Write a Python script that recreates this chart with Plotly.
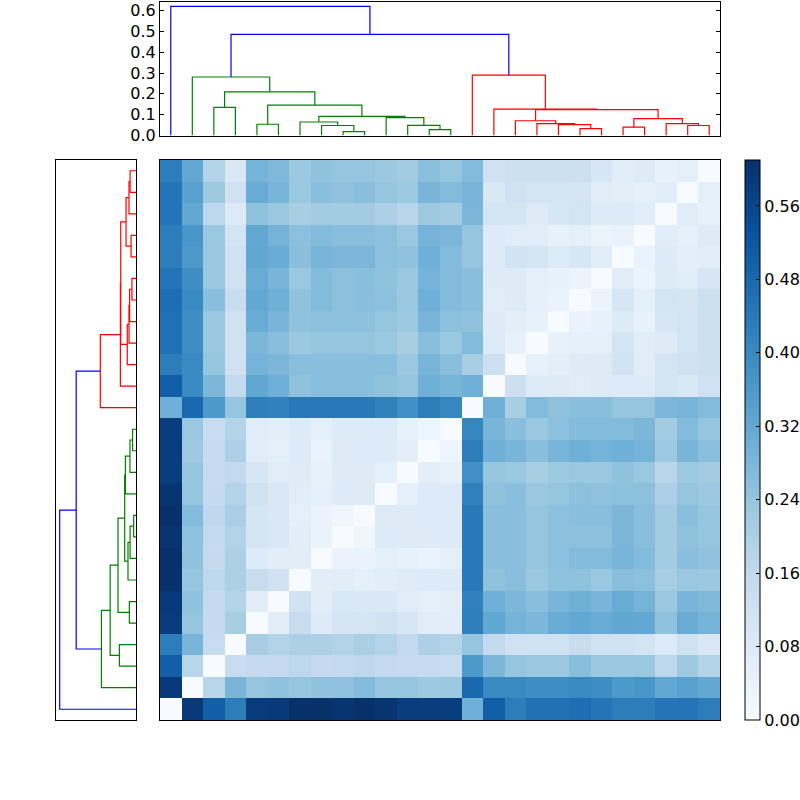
import plotly.graph_objects as go

# ---------------- data ----------------
n_leaves = 26
# linkage (display order leaves 0..25); ids >= 26 refer to earlier merges
link_left = [12, 8, 19, 21, 24, 11, 7, 18, 4, 17, 23, 6, 16, 29, 10, 37, 38, 15, 2, 34, 44, 1, 14, 47, 0]
link_right = [13, 9, 20, 22, 25, 26, 27, 28, 5, 33, 30, 32, 35, 36, 31, 40, 39, 42, 3, 41, 45, 46, 43, 48, 49]
link_height = [0.028, 0.019, 0.033, 0.040, 0.048, 0.049, 0.048, 0.052, 0.054, 0.057, 0.057,
               0.065, 0.071, 0.081, 0.086, 0.092, 0.124, 0.127, 0.135, 0.146, 0.210, 0.281,
               0.290, 0.486, 0.620]

# distance matrix, lower triangle (row i holds D[i][0..i-1]); row 0 = bottom row
d_rows = [
    [],
    [0.59],
    [0.50, 0.18],
    [0.43, 0.285, 0.15],
    [0.585, 0.24, 0.155, 0.21],
    [0.59, 0.25, 0.155, 0.19, 0.065],
    [0.61, 0.24, 0.17, 0.20, 0.15, 0.125],
    [0.61, 0.25, 0.155, 0.20, 0.08, 0.065, 0.065],
    [0.60, 0.25, 0.16, 0.19, 0.105, 0.095, 0.065, 0.04],
    [0.61, 0.27, 0.165, 0.205, 0.105, 0.09, 0.055, 0.04, 0.025],
    [0.60, 0.24, 0.155, 0.19, 0.12, 0.09, 0.068, 0.058, 0.08, 0.075],
    [0.58, 0.24, 0.152, 0.16, 0.10, 0.07, 0.072, 0.05, 0.075, 0.075, 0.055],
    [0.58, 0.23, 0.152, 0.20, 0.07, 0.055, 0.08, 0.04, 0.075, 0.08, 0.08, 0.06],
    [0.58, 0.235, 0.15, 0.19, 0.07, 0.062, 0.08, 0.058, 0.08, 0.08, 0.08, 0.05, 0.03],
    [0.30, 0.48, 0.36, 0.24, 0.425, 0.42, 0.44, 0.44, 0.44, 0.44, 0.42, 0.385, 0.43, 0.41],
    [0.50, 0.40, 0.28, 0.16, 0.325, 0.30, 0.25, 0.26, 0.26, 0.26, 0.25, 0.24, 0.30, 0.285, 0.30],
    [0.43, 0.40, 0.24, 0.12, 0.29, 0.28, 0.26, 0.26, 0.26, 0.26, 0.26, 0.235, 0.285, 0.26, 0.21, 0.13],
    [0.46, 0.39, 0.235, 0.12, 0.28, 0.26, 0.235, 0.24, 0.24, 0.24, 0.235, 0.21, 0.26, 0.235, 0.27, 0.08, 0.05],
    [0.46, 0.39, 0.235, 0.12, 0.31, 0.285, 0.25, 0.255, 0.255, 0.255, 0.24, 0.23, 0.285, 0.255, 0.25, 0.075, 0.06, 0.05],
    [0.465, 0.40, 0.26, 0.15, 0.32, 0.30, 0.25, 0.27, 0.255, 0.26, 0.255, 0.235, 0.30, 0.27, 0.26, 0.07, 0.075, 0.052, 0.04],
    [0.45, 0.39, 0.235, 0.12, 0.31, 0.285, 0.235, 0.27, 0.255, 0.26, 0.25, 0.235, 0.29, 0.27, 0.26, 0.075, 0.075, 0.055, 0.05, 0.035],
    [0.43, 0.36, 0.235, 0.125, 0.325, 0.31, 0.26, 0.285, 0.28, 0.28, 0.255, 0.25, 0.30, 0.27, 0.24, 0.08, 0.115, 0.11, 0.08, 0.10, 0.07],
    [0.43, 0.37, 0.235, 0.11, 0.32, 0.29, 0.255, 0.27, 0.26, 0.26, 0.255, 0.235, 0.29, 0.28, 0.24, 0.08, 0.07, 0.07, 0.05, 0.055, 0.035, 0.04],
    [0.45, 0.32, 0.17, 0.08, 0.25, 0.235, 0.21, 0.22, 0.22, 0.22, 0.20, 0.18, 0.23, 0.22, 0.28, 0.11, 0.11, 0.075, 0.10, 0.11, 0.08, 0.08, 0.068],
    [0.45, 0.34, 0.23, 0.125, 0.31, 0.285, 0.235, 0.26, 0.25, 0.26, 0.24, 0.23, 0.285, 0.27, 0.285, 0.09, 0.125, 0.11, 0.11, 0.105, 0.07, 0.06, 0.052, 0.07],
    [0.43, 0.32, 0.19, 0.09, 0.29, 0.275, 0.232, 0.25, 0.24, 0.24, 0.232, 0.22, 0.258, 0.24, 0.27, 0.125, 0.13, 0.13, 0.13, 0.13, 0.10, 0.068, 0.075, 0.05, 0.055],
]

dendro_ticks = [0.0, 0.1, 0.2, 0.3, 0.4, 0.5, 0.6]
cbar_ticks = [0.00, 0.08, 0.16, 0.24, 0.32, 0.40, 0.48, 0.56]

blues = [[0.0, 'rgb(247,251,255)'], [0.125, 'rgb(222,235,247)'], [0.25, 'rgb(198,219,239)'],
         [0.375, 'rgb(158,202,225)'], [0.5, 'rgb(107,174,214)'], [0.625, 'rgb(66,146,198)'],
         [0.75, 'rgb(33,113,181)'], [0.875, 'rgb(8,81,156)'], [1.0, 'rgb(8,48,107)']]

# ---------------- build matrix ----------------
z = [[0.0] * n_leaves for _ in range(n_leaves)]
for i, row in enumerate(d_rows):
    assert len(row) == i
    for j, v in enumerate(row):
        z[i][j] = v
        z[j][i] = v
zmax = max(max(r) for r in z)

# ---------------- dendrogram geometry ----------------
pos = {i: 5 + 10 * i for i in range(n_leaves)}
hgt = {i: 0.0 for i in range(n_leaves)}
for k, (a, b, h) in enumerate(zip(link_left, link_right, link_height)):
    nid = n_leaves + k
    pos[nid] = (pos[a] + pos[b]) / 2
    hgt[nid] = h

thr = 0.7 * max(link_height)
nm = len(link_height)
color = [None] * nm
parent = {}
for k in range(nm):
    parent[link_left[k]] = k
    parent[link_right[k]] = k
palette = ['rgb(0,128,0)', 'rgb(255,0,0)', 'rgb(0,191,191)', 'rgb(191,0,191)']
cluster_roots = []
for k in range(nm - 1, -1, -1):
    if link_height[k] >= thr:
        color[k] = 'rgb(0,0,255)'
    else:
        p = parent.get(n_leaves + k)
        if p is None or link_height[p] >= thr:
            cluster_roots.append(k)
cluster_roots.sort(key=lambda k: pos[n_leaves + k])
for ci, k in enumerate(cluster_roots):
    color[k] = palette[ci]
for k in range(nm - 1, -1, -1):
    if color[k] is None:
        color[k] = color[parent[n_leaves + k]]

segs = {}
for k in range(nm):
    a, b = link_left[k], link_right[k]
    xs = [pos[a], pos[a], pos[b], pos[b], None]
    ys = [hgt[a], hgt[n_leaves + k], hgt[n_leaves + k], hgt[b], None]
    sx, sy = segs.setdefault(color[k], ([], []))
    sx.extend(xs)
    sy.extend(ys)

fig = go.Figure()

fig.add_trace(go.Heatmap(
    z=z, x=list(range(n_leaves)), y=list(range(n_leaves)),
    colorscale=blues, zmin=0, zmax=zmax, xaxis='x', yaxis='y',
    colorbar=dict(
        thickness=15, thicknessmode='pixels', len=0.7, lenmode='fraction',
        x=745 / 800, xanchor='left', xpad=0, y=0.1, yanchor='bottom', ypad=0,
        outlinewidth=1, outlinecolor='black',
        tickvals=cbar_ticks, tickformat='.2f', ticks='inside', ticklen=4,
        tickcolor='black', tickfont=dict(family='DejaVu Sans', size=16, color='black'),
    ),
    showscale=True,
))

for col, (sx, sy) in segs.items():
    fig.add_trace(go.Scatter(x=sx, y=sy, mode='lines', line=dict(color=col, width=1.2),
                             xaxis='x2', yaxis='y2', showlegend=False, hoverinfo='skip'))
    fig.add_trace(go.Scatter(x=sy, y=sx, mode='lines', line=dict(color=col, width=1.2),
                             xaxis='x3', yaxis='y3', showlegend=False, hoverinfo='skip'))

box = dict(showline=True, mirror=True, linecolor='black', linewidth=1,
           showgrid=False, zeroline=False, automargin=False)

fig.update_layout(
    width=800, height=800,
    margin=dict(l=0, r=0, t=0, b=0, pad=0, autoexpand=False),
    paper_bgcolor='white', plot_bgcolor='white', showlegend=False,
    font=dict(family='DejaVu Sans', size=16, color='black'),
    xaxis=dict(domain=[0.2, 0.9], range=[-0.5, n_leaves - 0.5], showticklabels=False,
               ticks='', anchor='y', **box),
    yaxis=dict(domain=[0.1, 0.8], range=[-0.5, n_leaves - 0.5], showticklabels=False,
               ticks='', anchor='x', **box),
    xaxis2=dict(domain=[0.2, 0.9], range=[0, 10 * n_leaves], showticklabels=False,
                ticks='', anchor='y2', **box),
    yaxis2=dict(domain=[0.8306, 0.998], range=[0, 0.643], tickvals=dendro_ticks,
                tickformat='.1f', ticks='inside', ticklen=4, tickcolor='black',
                anchor='x2', showline=True, mirror='allticks', linecolor='black',
                linewidth=1, showgrid=False, zeroline=False, automargin=False,
                tickfont=dict(family='DejaVu Sans', size=16, color='black')),
    xaxis3=dict(domain=[0.07, 0.17], range=[0.65, 0], showticklabels=False,
                ticks='', anchor='y3', **box),
    yaxis3=dict(domain=[0.1, 0.8], range=[0, 10 * n_leaves], showticklabels=False,
                ticks='', anchor='x3', **box),
)

fig.write_html("out.html")
